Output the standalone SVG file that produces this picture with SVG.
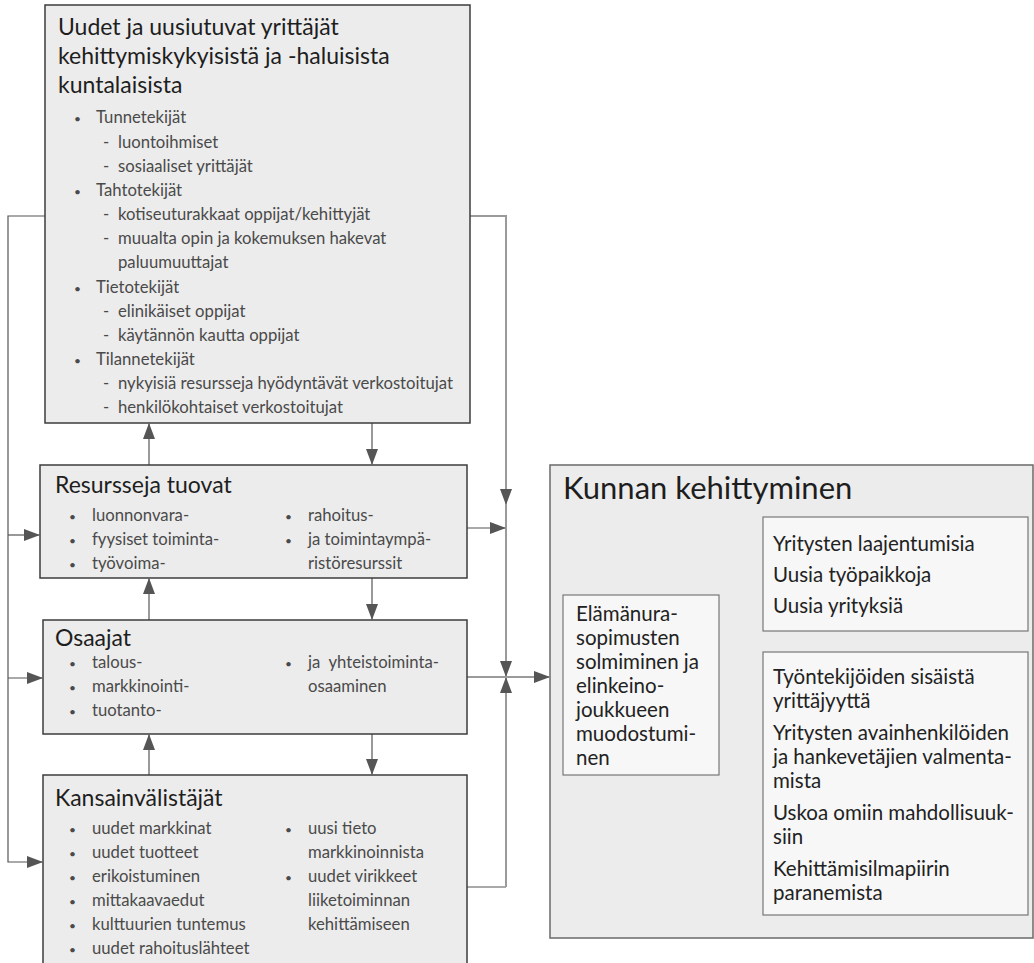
<svg xmlns="http://www.w3.org/2000/svg" width="1034" height="963" viewBox="0 0 1034 963">
<defs>
<marker id="ah" markerUnits="userSpaceOnUse" markerWidth="16" markerHeight="12" refX="15" refY="6" orient="auto"><path d="M0,0 L16,6 L0,12 z" fill="#555"/></marker>
<style>
.box{fill:#ececec;stroke:#3c3c3c;stroke-width:1.5}
.kbox{fill:#ececec;stroke:#6a6a6a;stroke-width:1.5}
.ibox{fill:#f7f7f7;stroke:#777;stroke-width:1.2}
.t{font-family:Lato,"Open Sans",sans-serif;fill:#1e1e1e}
.h{font-size:23px}
.kh{font-size:31px}
.li{font-size:16.7px;fill:#4a4a4a}
.bu{font-size:12px;fill:#4a4a4a}
.r{font-size:20.5px;fill:#222}
.thin{fill:none;stroke:#555;stroke-width:1.2}
.thick{fill:none;stroke:#9a9a9a;stroke-width:2}
</style>
</defs>
<rect width="1034" height="963" fill="#fff"/>

<g id="connectors">
<path class="thin" d="M45,216 H8 V862 H42" marker-end="url(#ah)"/>
<path class="thin" d="M8,535 H39" marker-end="url(#ah)"/>
<path class="thin" d="M8,678 H42" marker-end="url(#ah)"/>
<path class="thick" d="M149,465 V424" marker-end="url(#ah)"/>
<path class="thick" d="M149,620 V579" marker-end="url(#ah)"/>
<path class="thick" d="M149,775 V735" marker-end="url(#ah)"/>
<path class="thin" d="M372,423 V464" marker-end="url(#ah)"/>
<path class="thin" d="M372,578 V619" marker-end="url(#ah)"/>
<path class="thin" d="M372,734 V774" marker-end="url(#ah)"/>
<path class="thick" d="M470,216 H506 V504" marker-end="url(#ah)"/>
<path class="thick" d="M506,504 V676" marker-end="url(#ah)"/>
<path class="thin" d="M467,528 H505" marker-end="url(#ah)"/>
<path class="thin" d="M467,887 H506"/>
<path class="thick" d="M506,887 V678" marker-end="url(#ah)"/>
<path class="thick" d="M467,677 H549" marker-end="url(#ah)"/>
<path class="thin" d="M719,613 H762" marker-end="url(#ah)"/>
<path class="thin" d="M719,754 H762" marker-end="url(#ah)"/>
</g>

<g id="node-yrittajat">
<rect class="box" x="45" y="5" width="425" height="418"/>
<text class="t h" x="58" y="35">Uudet ja uusiutuvat yrittäjät</text>
<text class="t h" x="58" y="64">kehittymiskykyisistä ja -haluisista</text>
<text class="t h" x="58" y="93">kuntalaisista</text>
<g class="t bu">
<text x="74" y="123">•</text><text x="74" y="196">•</text><text x="74" y="293">•</text><text x="74" y="365">•</text>
</g>
<g class="t li">
<text x="96" y="123">Tunnetekijät</text>
<text x="103" y="148">-</text><text x="118" y="148">luontoihmiset</text>
<text x="103" y="172">-</text><text x="118" y="172">sosiaaliset yrittäjät</text>
<text x="96" y="196">Tahtotekijät</text>
<text x="103" y="220">-</text><text x="118" y="220">kotiseuturakkaat oppijat/kehittyjät</text>
<text x="103" y="244">-</text><text x="118" y="244">muualta opin ja kokemuksen hakevat</text>
<text x="118" y="268">paluumuuttajat</text>
<text x="96" y="293">Tietotekijät</text>
<text x="103" y="317">-</text><text x="118" y="317">elinikäiset oppijat</text>
<text x="103" y="341">-</text><text x="118" y="341">käytännön kautta oppijat</text>
<text x="96" y="365">Tilannetekijät</text>
<text x="103" y="389">-</text><text x="118" y="389">nykyisiä resursseja hyödyntävät verkostoitujat</text>
<text x="103" y="413">-</text><text x="118" y="413">henkilökohtaiset verkostoitujat</text>
</g>
</g>

<g id="node-resursseja">
<rect class="box" x="40" y="465" width="427" height="113"/>
<text class="t h" x="55" y="493">Resursseja tuovat</text>
<g class="t bu">
<text x="69" y="521">•</text><text x="69" y="545">•</text><text x="69" y="569">•</text>
<text x="285" y="521">•</text><text x="285" y="545">•</text>
</g>
<g class="t li">
<text x="92" y="521">luonnonvara-</text>
<text x="92" y="545">fyysiset toiminta-</text>
<text x="92" y="569">työvoima-</text>
<text x="308" y="521">rahoitus-</text>
<text x="308" y="545">ja toimintaympä-</text>
<text x="308" y="569">ristöresurssit</text>
</g>
</g>

<g id="node-osaajat">
<rect class="box" x="43" y="620" width="424" height="114"/>
<text class="t h" x="55" y="646">Osaajat</text>
<g class="t bu">
<text x="69" y="668">•</text><text x="69" y="692">•</text><text x="69" y="716">•</text>
<text x="285" y="668">•</text>
</g>
<g class="t li">
<text x="92" y="668">talous-</text>
<text x="92" y="692">markkinointi-</text>
<text x="92" y="716">tuotanto-</text>
<text x="308" y="668" xml:space="preserve">ja  yhteistoiminta-</text>
<text x="308" y="692">osaaminen</text>
</g>
</g>

<g id="node-kansainvalistajat">
<rect class="box" x="43" y="775" width="424" height="200"/>
<text class="t h" x="55" y="806">Kansainvälistäjät</text>
<g class="t bu">
<text x="69" y="834">•</text><text x="69" y="858">•</text><text x="69" y="882">•</text>
<text x="69" y="906">•</text><text x="69" y="930">•</text><text x="69" y="954">•</text>
<text x="285" y="834">•</text><text x="285" y="882">•</text>
</g>
<g class="t li">
<text x="92" y="834">uudet markkinat</text>
<text x="92" y="858">uudet tuotteet</text>
<text x="92" y="882">erikoistuminen</text>
<text x="92" y="906">mittakaavaedut</text>
<text x="92" y="930">kulttuurien tuntemus</text>
<text x="92" y="954">uudet rahoituslähteet</text>
<text x="308" y="834">uusi tieto</text>
<text x="308" y="858">markkinoinnista</text>
<text x="308" y="882">uudet virikkeet</text>
<text x="308" y="906">liiketoiminnan</text>
<text x="308" y="930">kehittämiseen</text>
</g>
</g>

<g id="node-kunnan">
<rect class="kbox" x="550" y="465" width="483" height="473"/>
<text class="t kh" x="563" y="499">Kunnan kehittyminen</text>
</g>

<g id="node-elamanura">
<rect class="ibox" x="563" y="595" width="156" height="180"/>
<g class="t r">
<text x="576" y="621">Elämänura-</text>
<text x="576" y="645">sopimusten</text>
<text x="576" y="669">solmiminen ja</text>
<text x="576" y="693">elinkeino-</text>
<text x="576" y="717">joukkueen</text>
<text x="576" y="741">muodostumi-</text>
<text x="576" y="765">nen</text>
</g>
</g>

<g id="node-yritysten">
<rect class="ibox" x="763" y="517" width="265" height="114"/>
<g class="t r">
<text x="773" y="551">Yritysten laajentumisia</text>
<text x="773" y="582">Uusia työpaikkoja</text>
<text x="773" y="613">Uusia yrityksiä</text>
</g>
</g>

<g id="node-tyontekijat">
<rect class="ibox" x="763" y="652" width="265" height="263"/>
<g class="t r">
<text x="773" y="684">Työntekijöiden sisäistä</text>
<text x="773" y="708">yrittäjyyttä</text>
<text x="773" y="740">Yritysten avainhenkilöiden</text>
<text x="773" y="764">ja hankevetäjien valmenta-</text>
<text x="773" y="788">mista</text>
<text x="773" y="820">Uskoa omiin mahdollisuuk-</text>
<text x="773" y="844">siin</text>
<text x="773" y="876">Kehittämisilmapiirin</text>
<text x="773" y="900">paranemista</text>
</g>
</g>
</svg>
